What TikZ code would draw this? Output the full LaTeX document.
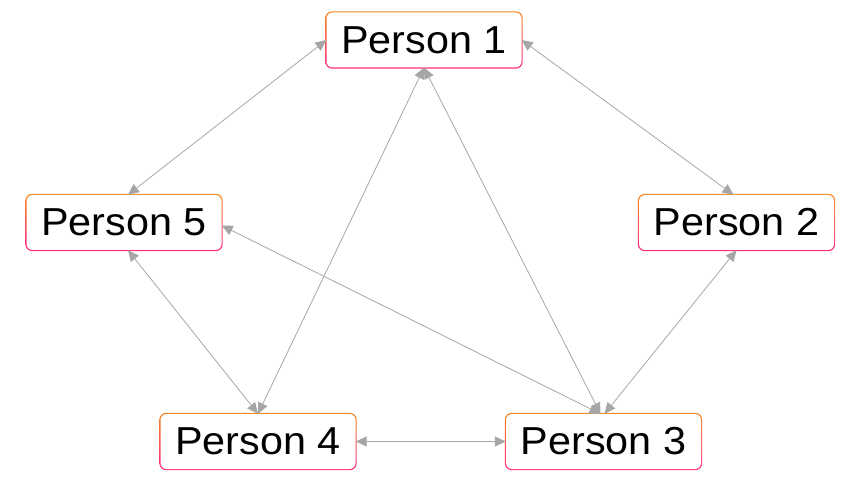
\documentclass[tikz,border=0pt]{standalone}
\usepackage{fontspec}
\setmainfont{Liberation Sans}
\usetikzlibrary{arrows.meta,backgrounds}
\definecolor{edgegray}{HTML}{A6A6A6}
\definecolor{bordertop}{HTML}{F5871F}
\definecolor{borderbot}{HTML}{FF2A7F}
\newcommand{\wtext}[1]{\scalebox{1.06}[1]{#1}}
\tikzset{
  person/.style={rectangle, rounded corners=6pt, fill=white, minimum width=195pt, minimum height=55pt, inner sep=0pt,
    font=\fontsize{39}{44}\selectfont, text=black},
  link/.style={draw=edgegray, line width=0.8pt, {Triangle[length=11pt,width=10pt]}-{Triangle[length=11pt,width=10pt]}, edgegray},
}
\begin{document}
\begin{tikzpicture}[x=1pt,y=-1pt]
\useasboundingbox (0,0) rectangle (848,486);
\node[person] (p1) at (424,40) {\wtext{Person 1}};
\node[person] (p2) at (736.5,222.5) {\wtext{Person 2}};
\node[person] (p3) at (603.5,441.5) {\wtext{Person 3}};
\node[person] (p4) at (258,441.5) {\wtext{Person 4}};
\node[person] (p5) at (124,222.5) {\wtext{Person 5}};
\begin{scope}[on background layer]
\foreach \n in {p1,p2,p3,p4,p5}{
  \shade[rounded corners=7pt, top color=bordertop, bottom color=borderbot]
    ([xshift=-1pt,yshift=1pt]\n.north west) rectangle ([xshift=1pt,yshift=-1pt]\n.south east);
}
\end{scope}
\draw[link] (p1.west) -- ([xshift=4pt]p5.north);
\draw[link] (p1.east) -- ([xshift=-3pt]p2.north);
\draw[link] (p1.south) -- (p4.north);
\draw[link] (p1.south) -- ([xshift=-3pt]p3.north);
\draw[link] ([xshift=4pt]p5.south) -- (p4.north);
\draw[link] ([yshift=-3pt]p5.east) -- ([xshift=-3pt]p3.north);
\draw[link] (p2.south) -- ([xshift=1pt]p3.north);
\draw[link] (p4.east) -- (p3.west);
\end{tikzpicture}
\end{document}
